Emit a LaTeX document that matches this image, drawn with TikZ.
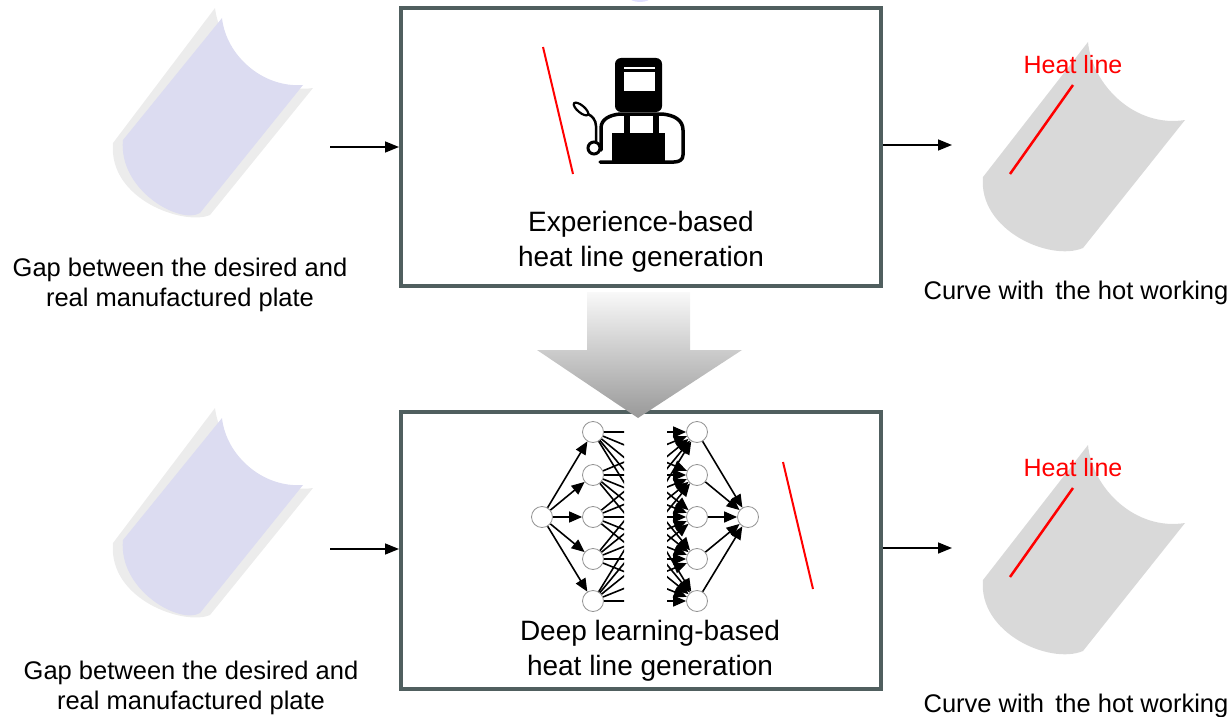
\documentclass[tikz,border=0pt]{standalone}
\usepackage{fontspec}
\setmainfont{Liberation Sans}
\usetikzlibrary{arrows.meta}
\definecolor{boxgray}{RGB}{80,95,95}
\definecolor{platelav}{RGB}{220,220,241}
\definecolor{plateshadow}{RGB}{236,236,236}
\definecolor{plategray}{RGB}{217,217,217}
\definecolor{heatred}{RGB}{255,0,0}

\begin{document}
\begin{tikzpicture}[x=1pt,y=-1pt,
  procbox/.style={draw=boxgray,line width=4pt,fill=white,minimum width=480pt,minimum height=277pt,inner sep=0pt},
  flowarrow/.style={line width=1.5pt,-{Triangle[length=14pt,width=11pt]}},
  neuron/.style={circle,draw=gray!85,fill=white,line width=0.8pt,minimum size=21pt,inner sep=0pt},
  netarrow/.style={line width=1.6pt,-{Triangle[length=13pt,width=11pt]}},
  sidelabel/.style={align=center,font=\fontsize{25.5}{29.5}\selectfont,inner sep=0pt},
  boxlabel/.style={align=center,font=\fontsize{28}{35}\selectfont,inner sep=0pt},
  heatlabel/.style={text=heatred,font=\fontsize{25}{30}\selectfont,inner sep=0pt}]
\useasboundingbox (0,0) rectangle (1232,717);

%Shape: plates before hot working
\foreach \dy in {0,400} {
\begin{scope}[shift={(0,\dy)}]
\fill[plateshadow] (215,8) .. controls (220,50) and (265,95) .. (313,88) -- (210,215) .. controls (185,226) and (108,200) .. (113,143) -- cycle;
\fill[platelav] (222,18) .. controls (226,55) and (262,88) .. (303,85) -- (200,213) .. controls (180,225) and (118,190) .. (123,140) -- cycle;
\end{scope}
}
%Shape: plates after hot working
\foreach \dy in {0,403} {
\begin{scope}[shift={(0,\dy)}]
\fill[plategray] (1088,42) .. controls (1092,85) and (1135,128) .. (1185,120) -- (1083,248) .. controls (1050,262) and (978,230) .. (983,177) -- cycle;
\draw[heatred,line width=2.5pt] (1073,85) -- (1010,174);
\end{scope}
}

%Shape: Rectangle
\node[procbox] (expbox) at (641,147) {};
%Shape: Rectangle
\node[procbox] (dlbox) at (641,550.5) {};

%Straight Lines
\coordinate (gapA) at (330,147);
\coordinate (gapB) at (330,549);
\coordinate (curveA) at (952,145);
\coordinate (curveB) at (952,548);
\draw[flowarrow] (gapA) -- (gapA -| expbox.west);
\draw[flowarrow] (curveA -| expbox.east) -- (curveA);
\draw[flowarrow] (gapB) -- (gapB -| dlbox.west);
\draw[flowarrow] (curveB -| dlbox.east) -- (curveB);

%Shape: welder
\fill[rounded corners=6pt] (615,58) rectangle (662,112);
\fill[white] (624,67) rectangle (655,69);
\fill[white] (624,72) rectangle (655,91);
\draw[line width=3.5pt,line join=round,line cap=round] (601,150) -- (601,128) .. controls (601,119) and (610,115) .. (620,114) -- (662,114) .. controls (674,115) and (683,120) .. (683,130) -- (683,155) .. controls (683,160) and (679,162) .. (674,162) -- (600,162);
\fill (612,133) rectangle (665,163);
\fill (624,114) rectangle (630,133);
\fill (653,114) rectangle (659,133);
\draw[line width=3pt,fill=white] (594,148) circle (6);
\draw[line width=2.5pt] (596,141) -- (596,126) .. controls (596,120) and (592,116) .. (588,114);
\draw[line width=2.2pt,rotate around={-40:(581,109)}] (581,109) ellipse (9 and 3.5);
\draw[heatred,line width=2pt] (543,47) -- (573,174);

%Shape: network
\node[neuron] (inp) at (542,517) {};
\foreach \i/\y in {1/432,2/475,3/517,4/559,5/601} {
  \node[neuron] (la\i) at (593,\y) {};
  \node[neuron] (lb\i) at (697,\y) {};
}
\node[neuron] (outp) at (748,517) {};
\foreach \i in {1,...,5} {
  \draw[netarrow] (inp) -- (la\i);
  \draw[netarrow] (lb\i) -- (outp);
}
% hidden links, cut in the middle
\begin{scope}
  \clip (560,415) rectangle (624,620);
  \foreach \i in {1,...,5} \foreach \j in {1,...,5} \draw[line width=1.6pt] (la\i) -- (lb\j);
\end{scope}
\begin{scope}
  \clip (667,415) rectangle (700,620);
  \foreach \i in {1,...,5} \foreach \j in {1,...,5} \draw[netarrow] (la\i) -- (lb\j);
\end{scope}
\draw[heatred,line width=2pt] (783,462) -- (813,589);

%Shape: down arrow
\shade[top color=gray!5,bottom color=gray!80] (587,292) -- (690,292) -- (690,350) -- (742,350) -- (638,418) -- (537,350) -- (587,350) -- cycle;

% Text Node
\node[boxlabel] (explbl) at (641,242) {Experience-based\\heat line generation};
% Text Node
\node[boxlabel] (dllbl) at (650,651) {Deep learning-based\\heat line generation};
% Text Node
\node[sidelabel] (gaplblA) at (180,285) {Gap between the desired and\\real manufactured plate};
% Text Node
\node[sidelabel] (gaplblB) at (191,688) {Gap between the desired and\\real manufactured plate};
% Text Node
\node[sidelabel] (curvelblA) at (1076,293) {Curve with\ \,the hot working};
% Text Node
\node[sidelabel] (curvelblB) at (1076,706) {Curve with\ \,the hot working};
% Text Node
\node[heatlabel] (heatlblA) at (1073,65) {Heat line};
% Text Node
\node[heatlabel] (heatlblB) at (1073,468) {Heat line};

\fill[blue!12] (640,-3) ellipse (11 and 5);
\end{tikzpicture}
\end{document}
